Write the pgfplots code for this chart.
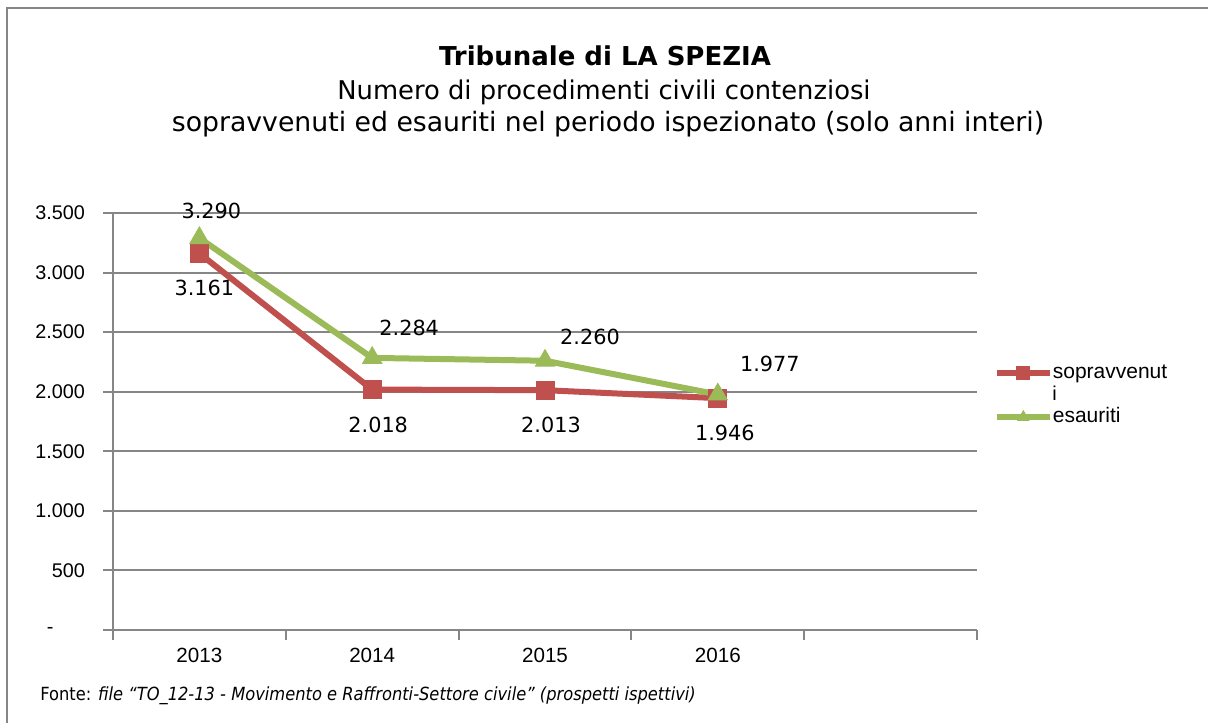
\documentclass[border=0pt]{standalone}
\usepackage{fontspec}
\usepackage{pgfplots}
\usepackage{pgfplotstable}
\pgfplotsset{compat=1.18}
\setmainfont{DejaVu Sans}
\newfontfamily\arial{Liberation Sans}
\newfontfamily\tahoma{DejaVu Sans Condensed}
\definecolor{sopr}{HTML}{C0504D}
\definecolor{esau}{HTML}{9BBB59}
\definecolor{gridgray}{HTML}{868686}

% anno, valore, spostamento etichetta (pt), etichetta
\pgfplotstableread{
x y dx dy lab
1 3161 2.5 -17.5 3.161
2 2018 3 -17.5 2.018
3 2013 3 -17.5 2.013
4 1946 3.5 -17.5 1.946
}\tabS
\pgfplotstableread{
x y dx dy lab
1 3290 6 13.5 3.290
2 2284 18.5 15 2.284
3 2260 22.5 12 2.260
4 1977 26 15.5 1.977
}\tabE

\begin{document}
\begin{tikzpicture}
\begin{scope}[x=0.5pt,y=-0.5pt]
  \path[use as bounding box] (0,0) rectangle (1208,722);
  \draw[gridgray, line width=1pt] (7,740) -- (7,8) -- (1220,8);
  \node[anchor=base, inner sep=0pt, font=\bfseries\fontsize{13}{15}\selectfont] at (605,66) {Tribunale di LA SPEZIA};
  \node[anchor=base, inner sep=0pt, font=\fontsize{12.9}{15}\selectfont] at (604,99) {Numero di procedimenti civili contenziosi};
  \node[anchor=base, inner sep=0pt, font=\fontsize{13.35}{15}\selectfont] at (608,132) {sopravvenuti ed esauriti nel periodo ispezionato (solo anni interi)};
  \node[anchor=base west, inner sep=0pt, font=\arial\fontsize{10}{12}\selectfont] at (1052,400) {i};
  \node[anchor=base west, inner sep=0pt, font=\tahoma\fontsize{9.05}{11}\selectfont] at (40,700)
    {Fonte: \textit{file “TO\_12-13 - Movimento e Raffronti-Settore civile” (prospetti ispettivi)}};
\end{scope}
\begin{axis}[
  at={(56.5pt,-315pt)}, anchor=south west,
  scale only axis, width=432pt, height=208.5pt,
  xmin=0.5, xmax=5.5, ymin=0, ymax=3500,
  axis x line*=bottom, axis y line*=left,
  axis line style={draw=gridgray, line width=1pt},
  xtick={0.5,1.5,2.5,3.5,4.5,5.5}, xticklabels={},
  extra x ticks={1,2,3,4}, extra x tick labels={2013,2014,2015,2016},
  extra x tick style={major tick length=0pt},
  xticklabel style={yshift=-5.5pt},
  ytick={0,500,1000,1500,2000,2500,3000,3500},
  yticklabels={{\makebox[19pt][l]{-}},500,{1.000},{1.500},{2.000},{2.500},{3.000},{3.500}},
  yticklabel style={xshift=-5.5pt, font=\arial\fontsize{9.9}{12}\selectfont},
  ymajorgrids, grid style={draw=gridgray, line width=1pt},
  tick align=outside, major tick length=5pt,
  tick style={draw=gridgray, line width=1pt},
  tick label style={font=\arial\fontsize{10.3}{12}\selectfont, text=black},
  clip=false,
  point meta=explicit symbolic,
  nodes near coords,
  visualization depends on={\thisrow{dx}\as\dx},
  visualization depends on={\thisrow{dy}\as\dy},
  every node near coord/.append style={anchor=center, xshift=\dx pt, yshift=\dy pt,
    text=black, font=\fontsize{10.4}{12}\selectfont},
  legend cell align=left,
  legend style={at={(axis description cs:1.019,0.563)}, anchor=west,
    draw=none, fill=none, inner sep=0pt, row sep=11.5pt,
    font=\arial\fontsize{10.5}{12}\selectfont,
    nodes={inner sep=0pt, text height=8pt, text depth=2.5pt},
    /tikz/every even column/.append style={column sep=1.5pt}},
  legend image code/.code={
    \draw[#1, line width=3pt] (0pt,0pt) -- (26.5pt,0pt);
    \draw[#1, mark size=3.2pt] plot coordinates {(13.25pt,0pt)};},
]
\addplot[sopr, line width=3pt, mark=square*, mark size=4.5pt,
  mark options={solid, line width=0.5pt}] table[x=x, y=y, meta=lab] {\tabS};
\addlegendentry{sopravvenut}
\addplot[esau, line width=3pt, mark=triangle*, mark size=5.5pt,
  mark options={solid, line width=0.5pt}] table[x=x, y=y, meta=lab] {\tabE};
\addlegendentry{esauriti}
\end{axis}
\end{tikzpicture}
\end{document}
